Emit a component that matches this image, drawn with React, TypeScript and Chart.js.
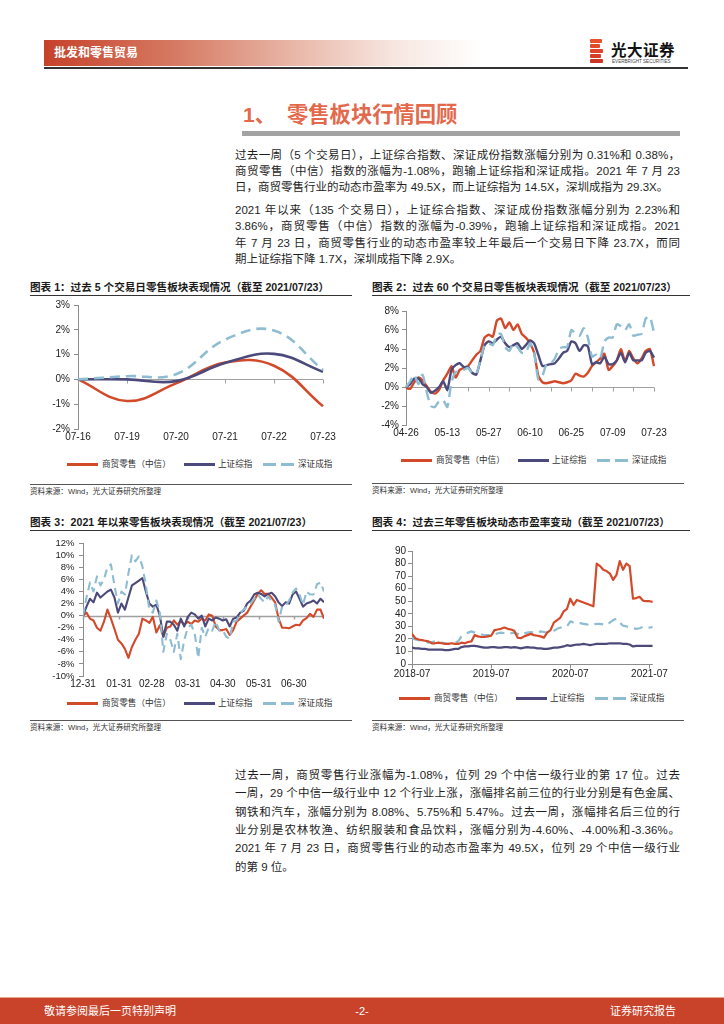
import React, { useEffect, useRef } from "react";
import { Chart, registerables } from "chart.js";

Chart.register(...registerables);

// ---------------- data ----------------
const seriesNames = ["商贸零售（中信）", "上证综指", "深证成指"];

// Chart 1: past 5 trading days (%)
const labels1 = ["07-16", "07-19", "07-20", "07-21", "07-22", "07-23"];
const retail1 = [0, -0.87, -0.16, 0.68, 0.55, -1.08];
const sh1 = [0, 0.0, -0.07, 0.66, 1.03, 0.31];
const sz1 = [0, 0.13, 0.21, 1.6, 1.97, 0.38];

// Chart 2: past 60 trading days (%)
const labels2 = [
  "04-26", "04-27", "04-28", "04-29", "04-30", "05-06", "05-07", "05-10", "05-11", "05-12",
  "05-13", "05-14", "05-17", "05-18", "05-19", "05-20", "05-21", "05-24", "05-25", "05-26",
  "05-27", "05-28", "05-31", "06-01", "06-02", "06-03", "06-04", "06-07", "06-08", "06-09",
  "06-10", "06-11", "06-15", "06-16", "06-17", "06-18", "06-21", "06-22", "06-23", "06-24",
  "06-25", "06-28", "06-29", "06-30", "07-01", "07-02", "07-05", "07-06", "07-07", "07-08",
  "07-09", "07-12", "07-13", "07-14", "07-15", "07-16", "07-19", "07-20", "07-21", "07-22",
  "07-23",
];
const retail2 = [
  -0.1, -0.2, 0.5, 1.0, 0.7, 0.1, -0.5, -0.7, -0.3, 0.7,
  1.4, 2.2, 1.0, 1.8, 2.0, 2.2, 2.8, 3.4, 3.8, 5.2,
  5.5, 5.3, 7.0, 7.2, 6.2, 6.8, 6.0, 6.6, 5.6, 5.2,
  4.6, 3.6, 1.2, 0.5, 0.4, 0.5, 0.6, 0.5, 0.4, 0.5,
  0.7, 1.4, 1.2, 1.1, 1.5, 2.2, 2.6, 3.0, 3.5, 1.8,
  2.2, 2.8, 4.0, 2.7, 3.8, 3.0, 2.5, 3.0, 3.8, 4.0,
  2.2,
];
const sh2 = [
  0, 0.3, 0.9, 0.9, 0.3, 0.0, -0.6, -0.4, 0.0, 0.6,
  -0.3, 1.8, 2.3, 2.5, 2.1, 2.1, 1.5, 1.3, 2.8, 4.4,
  4.8, 4.6, 5.0, 5.3, 4.6, 4.2, 4.4, 4.6, 4.0, 4.4,
  4.9, 4.6, 3.4, 2.2, 2.3, 2.4, 2.5, 3.0, 3.6, 3.8,
  4.8, 4.6, 3.8, 4.4, 4.3, 2.4, 2.6, 2.5, 3.2, 2.4,
  2.4, 2.8, 3.6, 2.6, 3.6, 2.8, 2.8, 2.8, 3.6, 3.8,
  3.1,
];
const sz2 = [
  0, 0.6, 1.3, 0.3, 1.3, -0.5, -2.0, -2.1, -1.5, -1.4,
  -2.1, 0.5, 1.6, 1.6, 1.8, 2.0, 1.5, 1.4, 2.8, 4.4,
  4.6, 4.4, 5.5, 5.6, 4.2, 3.8, 4.6, 4.2, 3.6, 3.6,
  4.6, 3.6, 0.8, 1.2, 2.4, 2.5, 3.0, 4.0, 4.2, 4.2,
  6.0, 5.6, 5.4, 6.2, 5.2, 3.2, 3.4, 3.0, 4.8, 5.2,
  5.2, 6.6, 6.4, 6.0, 6.6, 5.4, 5.5, 5.6, 7.2, 7.4,
  5.7,
];

// Chart 3: since start of 2021 (%), x = calendar days after 2020-12-31
const days3 = [
  0, 3, 6, 9, 12, 15, 18, 21, 24, 27,
  30, 33, 36, 39, 42, 45, 48, 51, 54, 57,
  60, 63, 66, 69, 72, 75, 78, 81, 84, 87,
  90, 93, 96, 99, 102, 105, 108, 111, 114, 117,
  120, 123, 126, 129, 132, 135, 138, 141, 144, 147,
  150, 153, 156, 159, 162, 165, 168, 171, 174, 177,
  180, 183, 186, 189, 192, 195, 198, 201, 204, 207,
];
const retail3 = [
  0, 0.5, -0.5, -0.8, -2.0, -2.5, -1.0, 1.0, -0.5, -2.2,
  -4.0, -4.6, -5.5, -7.0, -5.2, -4.0, -3.0, -0.5, -0.8, -1.2,
  -0.2, -2.8, -1.6, -3.5, -2.0, -1.8, -0.8, -1.5, -0.9, -1.5,
  -1.0, -1.4, -0.8, -1.0, -0.5, -0.8, 0.2, 0.0, -1.8, -2.4,
  -2.4, -2.2, -3.2, -2.4, -1.0, -0.5, 0.0, 0.5, 1.5, 2.5,
  3.6, 4.2, 3.6, 3.6, 3.0, 2.2, -0.5, -2.0, -2.0, -2.1,
  -1.8, -1.5, -1.6, -0.8, -0.4, 0.3, -0.2, 1.0, 1.0, -0.5,
];
const sh3 = [
  0, 1.5, 2.8, 2.2, 3.8, 3.0, 3.5, 4.0, 4.3, 3.0,
  0.5, 2.0, 1.0, 3.0, 5.0, 5.4, 5.8, 6.2, 4.0, 2.0,
  1.5, 1.8, 0.0, -3.5, -1.0, -1.0, -1.5, -2.5, -0.5, -1.8,
  -0.2, 0.5, 0.2, -0.5, 0.0, -1.8, -0.5, -0.8, -0.3, -0.5,
  -0.8, -0.6, -1.8, -0.5, -0.3, 0.5, 0.8, 2.0, 2.5, 3.5,
  3.8, 3.6, 3.2, 3.6, 3.8, 3.2, 2.2, 1.6, 2.2, 2.0,
  3.5, 4.0, 2.8, 1.5, 2.0, 2.2, 2.5, 2.0, 2.8, 2.2,
];
const sz3 = [
  0, 3.0, 5.5, 4.0, 6.5, 5.0, 6.0, 8.0, 8.5, 5.0,
  2.0, 4.0, 3.5, 7.0, 10.0, 9.0, 9.8, 8.2, 5.0, 1.0,
  0.5, 2.5, 0.5, -6.0, -3.0, -4.0, -6.0, -3.0, -7.2, -4.0,
  -2.0, -1.5, -3.0, -7.0, -2.0, -3.5, -2.0, -2.5, -1.0, -2.5,
  -2.4, -3.5, -3.8, -1.0, -0.8, 0.5, 1.0, 1.5, 2.0, 2.8,
  3.5, 2.8, 2.2, 3.2, 2.4, 1.8, -1.0, 1.5, 1.6, 2.5,
  3.8, 4.5, 3.5, 1.8, 4.0, 3.5, 3.5, 5.2, 5.5, 4.0,
];
const ticks3 = [0, 31, 59, 90, 120, 151, 181];
const tickLabels3 = ["12-31", "01-31", "02-28", "03-31", "04-30", "05-31", "06-30"];

// Chart 4: PE (TTM) over three years, x = months after 2018-07
const months4 = [
  0, 0.5, 1, 1.5, 2, 2.5, 3, 3.5, 4, 4.5,
  5, 5.5, 6, 6.5, 7, 7.5, 8, 8.5, 9, 9.5,
  10, 10.5, 11, 11.5, 12, 12.5, 13, 13.5, 14, 14.5,
  15, 15.5, 16, 16.5, 17, 17.5, 18, 18.5, 19, 19.5,
  20, 20.5, 21, 21.5, 22, 22.5, 23, 23.5, 24, 24.5,
  25, 25.5, 26, 26.5, 27, 27.5, 28, 28.5, 29, 29.5,
  30, 30.5, 31, 31.5, 32, 32.5, 33, 33.5, 34, 34.5,
  35, 35.5, 36, 36.5,
];
const retail4 = [
  24, 20.5, 19.5, 19, 18.5, 18, 16.5, 16.5, 17, 16.5,
  16, 16, 16.5, 16, 16, 17, 16.5, 17.5, 18, 23,
  22, 21.5, 21.5, 22, 22.5, 27, 27.5, 28, 29, 28,
  27.5, 26.5, 21, 20.5, 22, 23, 24, 23, 22.5, 22,
  21, 25, 27, 33, 35, 37, 42, 44, 52, 47,
  51, 50, 49, 48, 47, 46, 80, 78, 75, 74,
  72, 67, 71, 82, 75, 80, 78, 52, 52.5, 53.5,
  50.5, 50, 50, 49.5,
];
const sh4 = [
  13, 12.5, 12.5, 12, 12, 11.5, 11.5, 11.5, 11.5, 11.5,
  11, 11, 11.5, 12, 12, 13.5, 14, 14, 14.5, 14.5,
  14, 13.5, 13, 13, 13.5, 13.5, 13, 13, 13.5, 13.5,
  13, 13.5, 13, 12.5, 13, 13.5, 13, 13, 12.5, 12.5,
  12, 12, 12.5, 13, 13, 13.5, 14, 15, 14.5, 15,
  15.5, 15.5, 16, 15.5, 15, 15.5, 16, 16, 16, 16,
  16.5, 16.5, 16.5, 16.5, 16, 16, 15.5, 14, 14.5, 14.5,
  14.5, 14.5, 14.5, 14.5,
];
const sz4 = [
  21, 19.5, 19, 18.5, 18, 17, 17.5, 18, 17.5, 17,
  16.5, 16, 16.5, 17, 18, 22, 24, 25, 26, 25,
  24, 23.5, 23, 23, 23, 23.5, 24.5, 25, 24.5, 24,
  24.5, 25, 24, 23, 24.5, 25, 25.5, 25, 25, 26,
  25.5, 25, 25.5, 26.5, 28, 29, 29.5, 30, 34, 33,
  33, 32.5, 32, 31.5, 31, 31.5, 32, 32, 31.5, 31,
  33, 35, 36, 33, 30.5, 30, 29, 28.5, 28, 28.5,
  29.5, 29, 29, 29.5,
];
const ticks4 = [0, 12, 24, 36];
const tickLabels4 = ["2018-07", "2019-07", "2020-07", "2021-07"];

// ---------------- text ----------------
const para1 = [
  "过去一周（5 个交易日），上证综合指数、深证成份指数涨幅分别为 0.31%和 0.38%，",
  "商贸零售（中信）指数的涨幅为-1.08%，跑输上证综指和深证成指。2021 年 7 月 23",
  "日，商贸零售行业的动态市盈率为 49.5X，而上证综指为 14.5X，深圳成指为 29.3X。",
];
const para2 = [
  "2021 年以来（135 个交易日），上证综合指数、深证成份指数涨幅分别为 2.23%和",
  "3.86%，商贸零售（中信）指数的涨幅为-0.39%，跑输上证综指和深证成指。2021",
  "年 7 月 23 日，商贸零售行业的动态市盈率较上年最后一个交易日下降 23.7X，而同",
  "期上证综指下降 1.7X，深圳成指下降 2.9X。",
];
const para3 = [
  "过去一周，商贸零售行业涨幅为-1.08%，位列 29 个中信一级行业的第 17 位。过去",
  "一周，29 个中信一级行业中 12 个行业上涨，涨幅排名前三位的行业分别是有色金属、",
  "钢铁和汽车，涨幅分别为 8.08%、5.75%和 5.47%。过去一周，涨幅排名后三位的行",
  "业分别是农林牧渔、纺织服装和食品饮料，涨幅分别为-4.60%、-4.00%和-3.36%。",
  "2021 年 7 月 23 日，商贸零售行业的动态市盈率为 49.5X，位列 29 个中信一级行业",
  "的第 9 位。",
];

// ---------------- style ----------------
const RED = "#d34a2b";
const PURPLE = "#4c4a7b";
const BLUE = "#8ebdd1";
const AXIS = "#8c8c8c";
const TICKFONT = '"Liberation Sans", Arial, sans-serif';
const TEXTFONT = '"Liberation Sans", "Noto Sans CJK SC", sans-serif';

function zeroPlugin(tickValues: number[], color: string, width: number, len: number) {
  return {
    id: "zeroAxis",
    beforeDatasetsDraw(chart: any) {
      const { ctx, chartArea, scales } = chart;
      const x = scales.x;
      const y = scales.y;
      const py = Math.round(y.getPixelForValue(0)) + 0.5;
      ctx.save();
      ctx.strokeStyle = color;
      ctx.lineWidth = width;
      ctx.beginPath();
      ctx.moveTo(chartArea.left, py);
      ctx.lineTo(chartArea.right, py);
      for (const v of tickValues) {
        const px = Math.round(x.getPixelForValue(v)) + 0.5;
        ctx.moveTo(px, py);
        ctx.lineTo(px, py + len);
      }
      ctx.stroke();
      ctx.restore();
    },
  };
}

function yAxis(min: number, max: number, step: number, suffix: string, width: number, size: number, padding: number) {
  return {
    min,
    max,
    ticks: {
      stepSize: step,
      autoSkip: false,
      callback: (v: any) => `${v}${suffix}`,
      color: "#222",
      font: { family: TICKFONT, size },
      padding,
    },
    grid: { display: true, drawOnChartArea: false, drawTicks: true, tickLength: 4, color: AXIS, lineWidth: 1 },
    border: { display: true, color: AXIS, width: 1 },
    afterFit: (s: any) => {
      s.width = width;
    },
  };
}

function xCat(every: number, height: number, size: number, padding: number) {
  return {
    type: "category",
    offset: false,
    grid: { display: false, drawTicks: false },
    border: { display: false },
    ticks: {
      autoSkip: false,
      maxRotation: 0,
      minRotation: 0,
      padding,
      color: "#222",
      font: { family: TICKFONT, size },
      callback: function (this: any, val: any, idx: number) {
        return idx % every === 0 ? this.getLabelForValue(val) : "";
      },
    },
    afterFit: (s: any) => {
      s.height = height;
    },
  };
}

function xLin(min: number, max: number, tv: number[], tl: string[], height: number, size: number, padding: number) {
  return {
    type: "linear",
    min,
    max,
    afterBuildTicks: (s: any) => {
      s.ticks = tv.map((v) => ({ value: v }));
    },
    grid: { display: false, drawTicks: false },
    border: { display: false },
    ticks: {
      autoSkip: false,
      maxRotation: 0,
      minRotation: 0,
      padding,
      color: "#222",
      font: { family: TICKFONT, size },
      callback: (_v: any, i: number) => tl[i] ?? "",
    },
    afterFit: (s: any) => {
      s.height = height;
    },
  };
}

function ds(label: string, data: any[], color: string, width: number, order: number, dash: number[] | null, tension: number) {
  return {
    label,
    data,
    borderColor: color,
    backgroundColor: color,
    borderWidth: width,
    borderDash: dash || [],
    pointRadius: 0,
    fill: false,
    tension,
    order,
    borderCapStyle: "butt",
    borderJoinStyle: "round",
  };
}

function baseOptions(x: any, y: any, padTop: number, padRight: number) {
  return {
    animation: false,
    responsive: true,
    maintainAspectRatio: false,
    layout: { padding: { top: padTop, right: padRight, bottom: 0, left: 0 } },
    plugins: { legend: { display: false }, tooltip: { enabled: false } },
    elements: { point: { radius: 0 } },
    scales: { x, y },
  };
}

const xy = (xs: number[], ys: number[]) => xs.map((v, i) => ({ x: v, y: ys[i] }));

const build1 = () => ({
  type: "line",
  data: {
    labels: labels1,
    datasets: [
      ds(seriesNames[0], retail1, RED, 2.6, 2, null, 0.4),
      ds(seriesNames[1], sh1, PURPLE, 2.6, 1, null, 0.4),
      ds(seriesNames[2], sz1, BLUE, 2.6, 0, [10, 6], 0.4),
    ],
  },
  options: baseOptions(xCat(1, 21, 10, 2), yAxis(-2, 3, 1, "%", 48, 10, 4), 10, 17),
  plugins: [zeroPlugin([0, 1, 2, 3, 4, 5], "#a0a0a0", 1, 4)],
});

const build2 = () => ({
  type: "line",
  data: {
    labels: labels2,
    datasets: [
      ds(seriesNames[0], retail2, RED, 2.4, 2, null, 0.2),
      ds(seriesNames[1], sh2, PURPLE, 2.4, 1, null, 0.2),
      ds(seriesNames[2], sz2, BLUE, 2.4, 0, [11, 6], 0.2),
    ],
  },
  options: baseOptions(xCat(10, 22, 10, 2), yAxis(-4, 8, 2, "%", 44, 10, 3), 9, 18),
  plugins: [zeroPlugin([0, 5, 10, 15, 20, 25, 30, 35, 40, 45, 50, 55, 60], "#a0a0a0", 1, 4)],
});

const build3 = () => ({
  type: "line",
  data: {
    datasets: [
      ds(seriesNames[0], xy(days3, retail3), RED, 2.1, 2, null, 0),
      ds(seriesNames[1], xy(days3, sh3), PURPLE, 2.1, 1, null, 0),
      ds(seriesNames[2], xy(days3, sz3), BLUE, 2.1, 0, [8, 5], 0),
    ],
  },
  options: baseOptions(xLin(0, 207, ticks3, tickLabels3, 17, 10, 2), yAxis(-10, 12, 2, "%", 53, 9.5, 4.5), 6, 16),
  plugins: [zeroPlugin(ticks3, "#a0a0a0", 1.5, 3)],
});

const build4 = () => ({
  type: "line",
  data: {
    datasets: [
      ds(seriesNames[0], xy(months4, retail4), RED, 2.2, 0, null, 0),
      ds(seriesNames[1], xy(months4, sh4), PURPLE, 2.2, 1, null, 0),
      ds(seriesNames[2], xy(months4, sz4), BLUE, 2.2, 2, [9, 6], 0),
    ],
  },
  options: baseOptions(xLin(0, 36.5, ticks4, tickLabels4, 20, 10, 4), yAxis(0, 90, 10, "", 50, 10, 2), 6, 14),
  plugins: [zeroPlugin(ticks4, "#8c8c8c", 1, 4)],
});

// ---------------- components ----------------
function ChartBox(props: { left: number; top: number; width: number; height: number; build: () => any }) {
  const ref = useRef<HTMLCanvasElement | null>(null);
  useEffect(() => {
    const chart = new Chart(ref.current as HTMLCanvasElement, props.build() as any);
    return () => chart.destroy();
  }, []);
  return (
    <div style={{ position: "absolute", left: props.left, top: props.top, width: props.width, height: props.height }}>
      <canvas ref={ref} />
    </div>
  );
}

function Legend(props: { left: number; y: number }) {
  const { left, y } = props;
  const line = (x: number, bg: string) => (
    <div style={{ position: "absolute", left: left + x, top: y - 1.5, width: 31, height: 3, background: bg }} />
  );
  const text = (x: number, s: string) => (
    <div
      style={{
        position: "absolute",
        left: left + x,
        top: y - 7,
        height: 14,
        lineHeight: "14px",
        fontSize: 8.6,
        color: "#333",
        whiteSpace: "nowrap",
        fontFamily: TEXTFONT,
      }}
    >
      {s}
    </div>
  );
  return (
    <>
      {line(0, RED)}
      {text(35, seriesNames[0])}
      {line(117, PURPLE)}
      {text(151, seriesNames[1])}
      {line(196, `repeating-linear-gradient(90deg, ${BLUE} 0px, ${BLUE} 13px, transparent 13px, transparent 18px)`)}
      {text(231, seriesNames[2])}
    </>
  );
}

function Caption(props: { left: number; y: number; width: number; text: string }) {
  return (
    <>
      <div
        style={{
          position: "absolute",
          left: props.left,
          top: props.y - 8,
          height: 16,
          lineHeight: "16px",
          fontSize: 10.6,
          fontWeight: 700,
          color: "#1a1a1a",
          whiteSpace: "nowrap",
          fontFamily: TEXTFONT,
        }}
      >
        {props.text}
      </div>
      <div style={{ position: "absolute", left: props.left, top: props.y + 8, width: props.width, height: 1, background: "#333" }} />
    </>
  );
}

function Source(props: { left: number; y: number; width: number }) {
  return (
    <>
      <div style={{ position: "absolute", left: props.left, top: props.y, width: props.width, height: 1, background: "#555" }} />
      <div
        style={{
          position: "absolute",
          left: props.left,
          top: props.y + 2,
          height: 11,
          lineHeight: "11px",
          fontSize: 7.6,
          color: "#333",
          whiteSpace: "nowrap",
          fontFamily: TEXTFONT,
        }}
      >
        资料来源：Wind，光大证券研究所整理
      </div>
    </>
  );
}

function Para(props: { lines: string[]; top: number; lh: number }) {
  return (
    <>
      {props.lines.map((s, i) => (
        <div
          key={i}
          style={{
            position: "absolute",
            left: 235,
            top: props.top + i * props.lh,
            width: 445,
            height: props.lh,
            lineHeight: `${props.lh}px`,
            fontSize: 11.5,
            color: "#1e1e1e",
            fontFamily: TEXTFONT,
            textAlign: "justify",
            textAlignLast: i === props.lines.length - 1 ? "left" : "justify",
          } as any}
        >
          {s}
        </div>
      ))}
    </>
  );
}

export default function App() {
  return (
    <div
      style={{
        position: "absolute",
        left: 0,
        top: 0,
        width: 724,
        height: 1024,
        background: "#fff",
        overflow: "hidden",
        fontFamily: TEXTFONT,
      }}
    >
      {/* header */}
      <div
        style={{
          position: "absolute",
          left: 44,
          top: 40,
          width: 438,
          height: 26,
          background: "linear-gradient(90deg, #c6412a 0%, #d67a63 30%, #e9b9aa 58%, #f7e6e0 80%, #ffffff 100%)",
        }}
      />
      <div
        style={{
          position: "absolute",
          left: 54,
          top: 45,
          height: 16,
          lineHeight: "16px",
          fontSize: 12,
          fontWeight: 700,
          color: "#fff",
          fontFamily: TEXTFONT,
        }}
      >
        批发和零售贸易
      </div>
      <div style={{ position: "absolute", left: 44, top: 67, width: 644, height: 1.5, background: "#333" }} />
      {/* logo */}
      {[
        [0, 12, "#e8502e"],
        [5, 10, "#e24a2c"],
        [10, 13, "#dc442b"],
        [15, 11, "#d43d2a"],
        [20, 13, "#cc3628"],
      ].map((b: any, i) => (
        <div
          key={i}
          style={{ position: "absolute", left: 590, top: 39 + b[0], width: b[1], height: 4, background: b[2], borderRadius: 1 }}
        />
      ))}
      <div
        style={{
          position: "absolute",
          left: 611,
          top: 42,
          height: 18,
          lineHeight: "18px",
          fontSize: 15.5,
          fontWeight: 700,
          color: "#111",
          letterSpacing: 0.5,
          fontFamily: TEXTFONT,
        }}
      >
        光大证券
      </div>
      <div
        style={{
          position: "absolute",
          left: 612,
          top: 59,
          height: 6,
          lineHeight: "6px",
          fontSize: 4.6,
          color: "#444",
          whiteSpace: "nowrap",
          fontFamily: TICKFONT,
        }}
      >
        EVERBRIGHT SECURITIES
      </div>

      {/* section title */}
      <div
        style={{
          position: "absolute",
          left: 243,
          top: 103,
          height: 24,
          lineHeight: "24px",
          fontSize: 21,
          fontWeight: 700,
          color: "#e3694c",
          whiteSpace: "nowrap",
          fontFamily: TEXTFONT,
        }}
      >
        1、
      </div>
      <div
        style={{
          position: "absolute",
          left: 287,
          top: 103,
          height: 24,
          lineHeight: "24px",
          fontSize: 21.3,
          fontWeight: 700,
          color: "#e3694c",
          whiteSpace: "nowrap",
          fontFamily: TEXTFONT,
        }}
      >
        零售板块行情回顾
      </div>
      <div style={{ position: "absolute", left: 242, top: 131, width: 438, height: 4.5, background: "#a3a3a3" }} />

      <Para lines={para1} top={147} lh={16} />
      <Para lines={para2} top={202} lh={16.3} />

      {/* chart 1 */}
      <Caption left={30} y={287} width={322} text="图表 1：过去 5 个交易日零售板块表现情况（截至 2021/07/23）" />
      <ChartBox left={30} top={295} width={310} height={155} build={build1} />
      <Legend left={67} y={464} />
      <Source left={30} y={484} width={322} />

      {/* chart 2 */}
      <Caption left={372} y={287} width={318} text="图表 2：过去 60 个交易日零售板块表现情况（截至 2021/07/23）" />
      <ChartBox left={362} top={302} width={310} height={145} build={build2} />
      <Legend left={401} y={460} />
      <Source left={372} y={483} width={312} />

      {/* chart 3 */}
      <Caption left={30} y={522} width={322} text="图表 3：2021 年以来零售板块表现情况（截至 2021/07/23）" />
      <ChartBox left={30} top={533} width={310} height={160} build={build3} />
      <Legend left={67} y={703} />
      <Source left={30} y={720} width={322} />

      {/* chart 4 */}
      <Caption left={372} y={522} width={318} text="图表 4：过去三年零售板块动态市盈率变动（截至 2021/07/23）" />
      <ChartBox left={362} top={543} width={310} height={141} build={build4} />
      <Legend left={399} y={698} />
      <Source left={372} y={720} width={312} />

      <Para lines={para3} top={766} lh={18.3} />

      {/* footer */}
      <div style={{ position: "absolute", left: 0, top: 997, width: 724, height: 1, background: "#e9a593" }} />
      <div style={{ position: "absolute", left: 0, top: 998, width: 724, height: 26, background: "#c8432a" }} />
      <div
        style={{
          position: "absolute",
          left: 44,
          top: 1003,
          height: 16,
          lineHeight: "16px",
          fontSize: 11,
          color: "#fff",
          fontFamily: TEXTFONT,
        }}
      >
        敬请参阅最后一页特别声明
      </div>
      <div
        style={{
          position: "absolute",
          left: 342,
          width: 40,
          textAlign: "center",
          top: 1003,
          height: 16,
          lineHeight: "16px",
          fontSize: 11,
          color: "#fff",
          fontFamily: TEXTFONT,
        }}
      >
        -2-
      </div>
      <div
        style={{
          position: "absolute",
          left: 560,
          width: 116,
          textAlign: "right",
          top: 1003,
          height: 16,
          lineHeight: "16px",
          fontSize: 11,
          color: "#fff",
          fontFamily: TEXTFONT,
        }}
      >
        证券研究报告
      </div>
    </div>
  );
}
